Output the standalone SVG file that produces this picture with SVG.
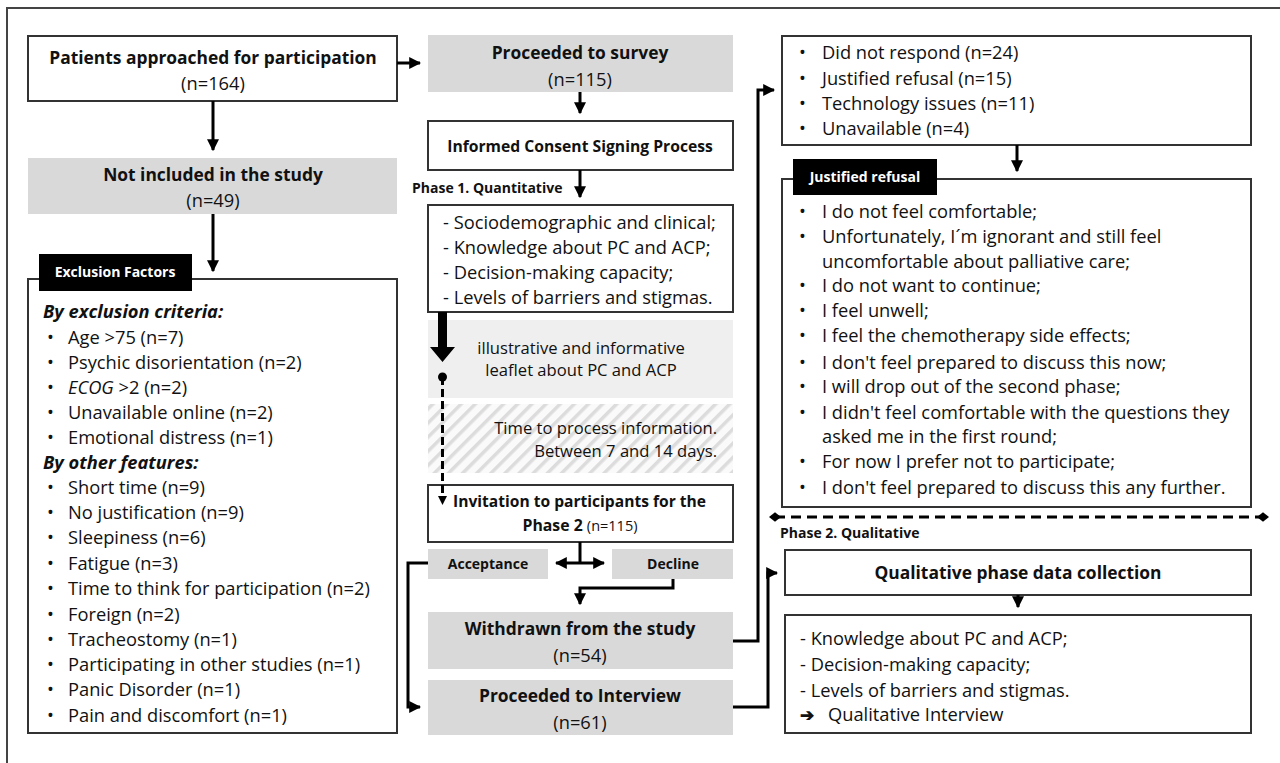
<svg xmlns="http://www.w3.org/2000/svg" width="1280" height="763" viewBox="0 0 1280 763">
<defs>
<style>
text{font-family:"Open Sans",Lato,"Liberation Sans",sans-serif;fill:#111;}
.b{font-weight:bold;}
.t{font-size:18.3px;}
.t2{font-size:16.6px;}
.h{font-size:17.4px;font-weight:bold;}
.s{font-size:14px;font-weight:bold;}
.lab{font-size:14px;font-weight:bold;fill:#fff;}
.box{fill:#fff;stroke:#333;stroke-width:2;}
.gray{fill:#d9d9d9;}
.c{stroke:#000;stroke-width:3;fill:none;}
.m{text-anchor:middle;}
.e{text-anchor:end;}
</style>
<marker id="ah" viewBox="0 0 10 10" refX="9" refY="5" markerWidth="4" markerHeight="4" orient="auto-start-reverse" markerUnits="strokeWidth">
<path d="M0,0 L10,5 L0,10 z" fill="#000"/>
</marker>
<marker id="dm" viewBox="0 0 10 10" refX="5" refY="5" markerWidth="4" markerHeight="4" orient="auto" markerUnits="strokeWidth">
<path d="M0,5 L5,1 L10,5 L5,9 z" fill="#000"/>
</marker>
<pattern id="hatch" width="10" height="10" patternUnits="userSpaceOnUse" patternTransform="rotate(45)">
<rect width="10" height="10" fill="#fafafa"/>
<rect x="0" y="0" width="3.5" height="10" fill="#dcdcdc"/>
</pattern>
</defs>
<rect x="0" y="0" width="1280" height="763" fill="#fff"/>
<rect x="7" y="8" width="1300" height="800" fill="none" stroke="#444" stroke-width="2"/>

<g id="patients">
<rect class="box" x="28" y="36" width="369" height="65"/>
<text class="h m" x="213" y="64">Patients approached for participation</text>
<text class="t m" x="213" y="90">(n=164)</text>
</g>

<g id="not-included">
<rect class="gray" x="28" y="158" width="369" height="56"/>
<text class="h m" x="213" y="181">Not included in the study</text>
<text class="t m" x="213" y="207">(n=49)</text>
</g>

<g id="exclusion">
<rect class="box" x="28" y="279" width="369" height="454"/>
<rect x="39" y="254" width="153" height="37" fill="#000"/>
<text class="lab m" x="115" y="277">Exclusion Factors</text>
<text class="t" x="43" y="318" font-weight="bold" font-style="italic">By exclusion criteria:</text>
<text class="t" x="47" y="344">•</text><text class="t" x="68" y="344">Age &gt;75 (n=7)</text>
<text class="t" x="47" y="369">•</text><text class="t" x="68" y="369">Psychic disorientation (n=2)</text>
<text class="t" x="47" y="394">•</text><text class="t" x="68" y="394"><tspan font-style="italic">ECOG</tspan> &gt;2 (n=2)</text>
<text class="t" x="47" y="419">•</text><text class="t" x="68" y="419">Unavailable online (n=2)</text>
<text class="t" x="47" y="444">•</text><text class="t" x="68" y="444">Emotional distress (n=1)</text>
<text class="t" x="43" y="469" font-weight="bold" font-style="italic">By other features:</text>
<text class="t" x="47" y="494">•</text><text class="t" x="68" y="494">Short time (n=9)</text>
<text class="t" x="47" y="519">•</text><text class="t" x="68" y="519">No justification (n=9)</text>
<text class="t" x="47" y="544">•</text><text class="t" x="68" y="544">Sleepiness (n=6)</text>
<text class="t" x="47" y="570">•</text><text class="t" x="68" y="570">Fatigue (n=3)</text>
<text class="t" x="47" y="595">•</text><text class="t" x="68" y="595">Time to think for participation (n=2)</text>
<text class="t" x="47" y="621">•</text><text class="t" x="68" y="621">Foreign (n=2)</text>
<text class="t" x="47" y="646">•</text><text class="t" x="68" y="646">Tracheostomy (n=1)</text>
<text class="t" x="47" y="671">•</text><text class="t" x="68" y="671">Participating in other studies (n=1)</text>
<text class="t" x="47" y="696">•</text><text class="t" x="68" y="696">Panic Disorder (n=1)</text>
<text class="t" x="47" y="722">•</text><text class="t" x="68" y="722">Pain and discomfort (n=1)</text>
</g>

<g id="survey">
<rect class="gray" x="428" y="35" width="305" height="57"/>
<text class="h m" x="580" y="59">Proceeded to survey</text>
<text class="t m" x="580" y="86">(n=115)</text>
</g>

<g id="consent">
<rect class="box" x="428" y="121" width="305" height="49"/>
<text class="m b" x="580" y="152" font-size="15.7">Informed Consent Signing Process</text>
</g>

<g id="phase1-label">
<text class="s" x="412" y="193">Phase 1. Quantitative</text>
</g>

<g id="quant-data">
<rect class="box" x="428" y="205" width="305" height="107"/>
<text class="t" x="443" y="229">- Sociodemographic and clinical;</text>
<text class="t" x="443" y="254">- Knowledge about PC and ACP;</text>
<text class="t" x="443" y="279">- Decision-making capacity;</text>
<text class="t" x="443" y="304">- Levels of barriers and stigmas.</text>
</g>

<g id="leaflet">
<rect x="428" y="320" width="305" height="78" fill="#efefef"/>
<text class="t2 m" x="581" y="354">illustrative and informative</text>
<text class="t2 m" x="581" y="376">leaflet about PC and ACP</text>
</g>

<g id="time">
<rect x="428" y="404" width="305" height="69" fill="url(#hatch)"/>
<text class="t2 e" x="717" y="434">Time to process information.</text>
<text class="t2 e" x="717" y="457">Between 7 and 14 days.</text>
</g>

<g id="invitation">
<rect class="box" x="428" y="485" width="305" height="57"/>
<text class="b" x="453" y="507" font-size="15.6">Invitation to participants for the</text>
<text class="m" x="580" y="531"><tspan class="b" font-size="15.8">Phase 2</tspan> <tspan font-size="14.5">(n=115)</tspan></text>
</g>

<g id="acceptance">
<rect class="gray" x="428" y="549" width="120" height="30"/>
<text class="s m" x="488" y="569">Acceptance</text>
</g>

<g id="decline">
<rect class="gray" x="612" y="549" width="121" height="30"/>
<text class="s m" x="673" y="569">Decline</text>
</g>

<g id="withdrawn">
<rect class="gray" x="428" y="612" width="305" height="57"/>
<text class="h m" x="580" y="635">Withdrawn from the study</text>
<text class="t m" x="580" y="662">(n=54)</text>
</g>

<g id="interview">
<rect class="gray" x="428" y="680" width="305" height="55"/>
<text class="h m" x="580" y="702">Proceeded to Interview</text>
<text class="t m" x="580" y="729">(n=61)</text>
</g>

<g id="reasons">
<rect class="box" x="782" y="36" width="469" height="109"/>
<text class="t" x="799" y="59">•</text><text class="t" x="822" y="59">Did not respond (n=24)</text>
<text class="t" x="799" y="85">•</text><text class="t" x="822" y="85">Justified refusal (n=15)</text>
<text class="t" x="799" y="110">•</text><text class="t" x="822" y="110">Technology issues (n=11)</text>
<text class="t" x="799" y="135">•</text><text class="t" x="822" y="135">Unavailable (n=4)</text>
</g>

<g id="justified">
<rect class="box" x="782" y="179" width="469" height="328"/>
<rect x="793" y="159" width="144" height="36" fill="#000"/>
<text class="lab m" x="865" y="182">Justified refusal</text>
<text class="t" x="799" y="218">•</text><text class="t" x="822" y="218">I do not feel comfortable;</text>
<text class="t" x="799" y="243">•</text><text class="t" x="822" y="243">Unfortunately, I´m ignorant and still feel</text>
<text class="t" x="822" y="268">uncomfortable about palliative care;</text>
<text class="t" x="799" y="292">•</text><text class="t" x="822" y="292">I do not want to continue;</text>
<text class="t" x="799" y="317">•</text><text class="t" x="822" y="317">I feel unwell;</text>
<text class="t" x="799" y="342">•</text><text class="t" x="822" y="342">I feel the chemotherapy side effects;</text>
<text class="t" x="799" y="369">•</text><text class="t" x="822" y="369">I don't feel prepared to discuss this now;</text>
<text class="t" x="799" y="393">•</text><text class="t" x="822" y="393">I will drop out of the second phase;</text>
<text class="t" x="799" y="419">•</text><text class="t" x="822" y="419">I didn't feel comfortable with the questions they</text>
<text class="t" x="822" y="443">asked me in the first round;</text>
<text class="t" x="799" y="468">•</text><text class="t" x="822" y="468">For now I prefer not to participate;</text>
<text class="t" x="799" y="494">•</text><text class="t" x="822" y="494">I don't feel prepared to discuss this any further.</text>
</g>

<g id="phase2-label">
<text class="s" x="780" y="538">Phase 2. Qualitative</text>
</g>

<g id="qual-collection">
<rect class="box" x="785" y="550" width="466" height="45"/>
<text class="h m" x="1018" y="579">Qualitative phase data collection</text>
</g>

<g id="qual-data">
<rect class="box" x="785" y="615" width="466" height="118"/>
<text class="t" x="800" y="645">- Knowledge about PC and ACP;</text>
<text class="t" x="800" y="671">- Decision-making capacity;</text>
<text class="t" x="800" y="697">- Levels of barriers and stigmas.</text>
<text x="800" y="721" font-family="'DejaVu Sans',sans-serif" font-weight="bold" font-size="17">➔</text>
<text class="t" x="828" y="721">Qualitative Interview</text>
</g>

<g id="connectors">
<path class="c" d="M213,101 V150" marker-end="url(#ah)"/>
<path class="c" d="M397,63 H420" marker-end="url(#ah)"/>
<path class="c" d="M213,214 V271" marker-end="url(#ah)"/>
<path class="c" d="M580,92 V113" marker-end="url(#ah)"/>
<path class="c" d="M580,170 V197" marker-end="url(#ah)"/>
<path d="M438,312 H447 V347 H455 L442.5,362 L430,347 H438 z" fill="#000"/>
<circle cx="442.5" cy="377" r="4.5" fill="#000"/>
<path d="M442.5,377 V497" stroke="#000" stroke-width="3" stroke-dasharray="8,4" fill="none"/>
<path d="M438,496 L447,496 L442.5,505 z" fill="#000"/>
<path class="c" d="M580,542 V563"/>
<path class="c" d="M580,563 H556" marker-end="url(#ah)"/>
<path class="c" d="M580,563 H604" marker-end="url(#ah)"/>
<path class="c" d="M673,579 V588 H580 V604" marker-end="url(#ah)"/>
<path class="c" d="M428,563 H408 V707 H420" marker-end="url(#ah)"/>
<path class="c" d="M733,641 H758 V90 H774" marker-end="url(#ah)"/>
<path class="c" d="M733,707 H768 V573 H777" marker-end="url(#ah)"/>
<path class="c" d="M1017,145 V171" marker-end="url(#ah)"/>
<path class="c" d="M1018,595 V607" marker-end="url(#ah)"/>
<path d="M775,517 H1263" stroke="#000" stroke-width="3" stroke-dasharray="10,6" marker-start="url(#dm)" marker-end="url(#dm)"/>
</g>
</svg>
